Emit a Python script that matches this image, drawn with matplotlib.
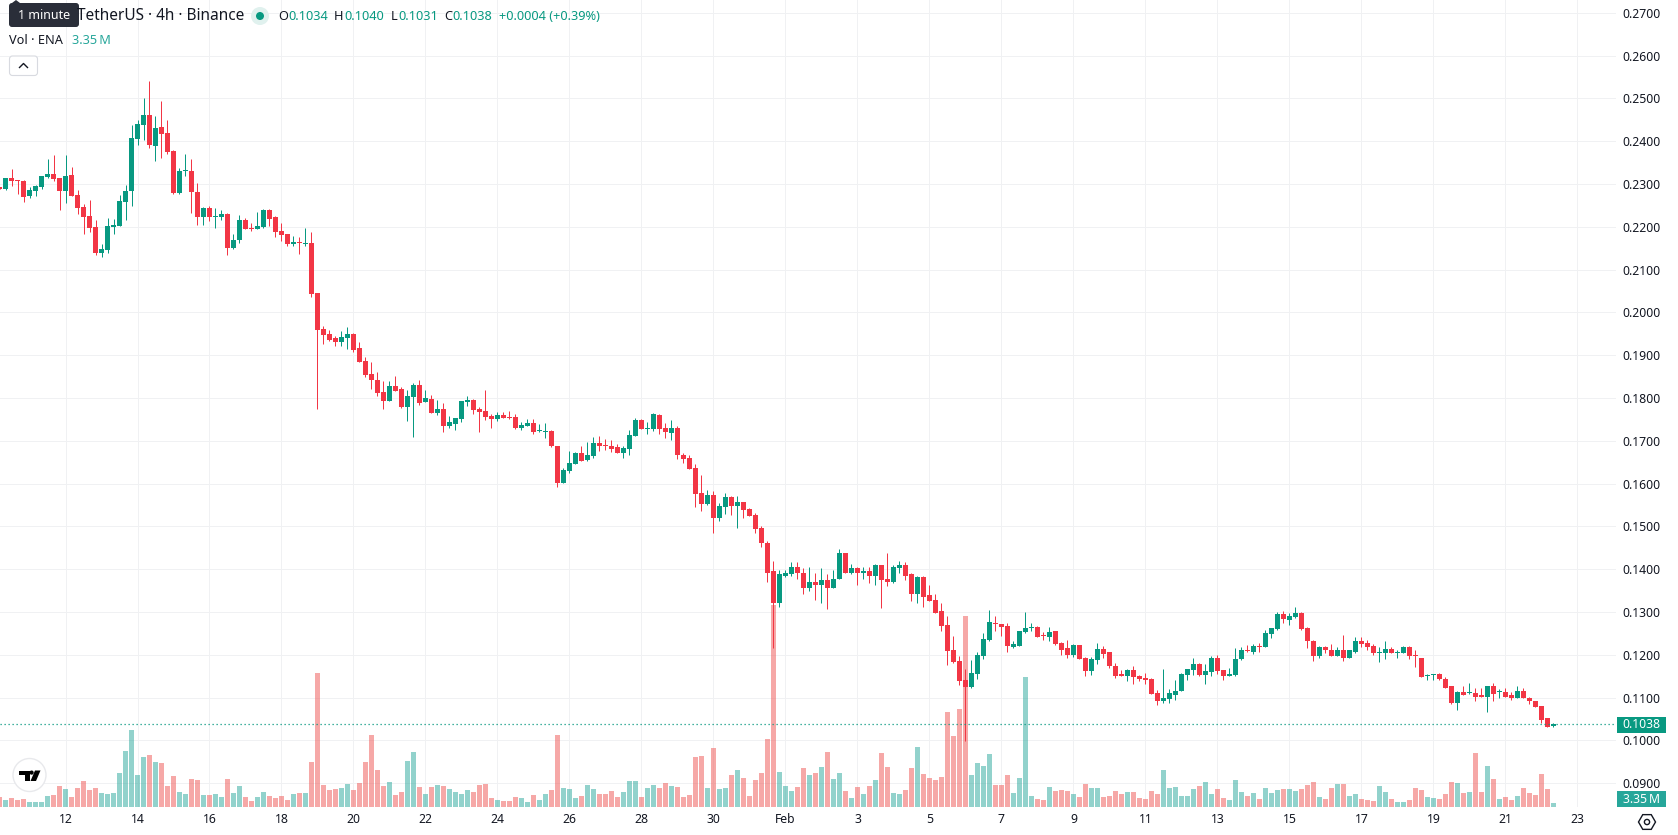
import matplotlib
matplotlib.use('Agg')
import matplotlib.pyplot as plt
import numpy as np
from matplotlib.patches import Circle, FancyBboxPatch, Polygon, Rectangle, RegularPolygon

W, H = 1678, 835
plt.rcParams['font.family'] = ['Noto Sans', 'DejaVu Sans']

# 4h candles, prices in 1/10000 USDT
opens = [
    2293, 2288, 2314, 2309, 2307, 2272, 2284, 2293, 2316, 2323,
    2314, 2284, 2321, 2274, 2246, 2225, 2199, 2138, 2145, 2199,
    2201, 2258, 2283, 2405, 2438, 2461, 2388, 2433, 2419, 2377,
    2279, 2330, 2330, 2281, 2223, 2244, 2223, 2223, 2230, 2150,
    2169, 2216, 2197, 2195, 2199, 2239, 2223, 2190, 2183, 2159,
    2164, 2159, 2162, 2044, 1960, 1949, 1939, 1930, 1939, 1949,
    1916, 1886, 1855, 1843, 1813, 1792, 1827, 1820, 1778, 1801,
    1830, 1790, 1797, 1764, 1773, 1734, 1738, 1750, 1790, 1794,
    1773, 1769, 1757, 1750, 1759, 1755, 1755, 1729, 1734, 1741,
    1722, 1720, 1722, 1687, 1601, 1629, 1645, 1671, 1654, 1664,
    1694, 1689, 1687, 1685, 1671, 1680, 1710, 1748, 1727, 1727,
    1759, 1729, 1717, 1729, 1666, 1659, 1636, 1577, 1551, 1572,
    1519, 1544, 1568, 1547, 1556, 1540, 1526, 1495, 1462, 1395,
    1320, 1383, 1388, 1404, 1392, 1357, 1369, 1364, 1374, 1357,
    1376, 1437, 1392, 1402, 1392, 1395, 1385, 1409, 1376, 1371,
    1402, 1409, 1388, 1343, 1381, 1339, 1327, 1301, 1270, 1211,
    1186, 1141, 1125, 1155, 1197, 1235, 1275, 1272, 1268, 1218,
    1221, 1254, 1263, 1265, 1247, 1242, 1256, 1228, 1216, 1200,
    1223, 1193, 1162, 1188, 1214, 1207, 1174, 1155, 1151, 1165,
    1151, 1146, 1144, 1111, 1092, 1097, 1106, 1116, 1153, 1165,
    1179, 1153, 1160, 1193, 1165, 1151, 1153, 1190, 1211, 1207,
    1221, 1218, 1249, 1261, 1296, 1282, 1289, 1298, 1263, 1232,
    1198, 1217, 1210, 1198, 1212, 1193, 1207, 1233, 1228, 1221,
    1203, 1203, 1214, 1203, 1205, 1217, 1198, 1193, 1150, 1152,
    1154, 1144, 1126, 1088, 1114, 1110, 1111, 1107, 1102, 1126,
    1112, 1114, 1105, 1098, 1116, 1100, 1091, 1081, 1051, 1034,
]
highs = [
    2293, 2314, 2335, 2309, 2309, 2293, 2297, 2318, 2358, 2367,
    2314, 2367, 2339, 2286, 2253, 2262, 2216, 2159, 2220, 2218,
    2274, 2297, 2438, 2449, 2501, 2540, 2459, 2494, 2449, 2379,
    2337, 2370, 2358, 2302, 2246, 2248, 2244, 2239, 2232, 2183,
    2227, 2220, 2208, 2234, 2241, 2241, 2225, 2208, 2183, 2178,
    2176, 2197, 2187, 2044, 1967, 1958, 1944, 1956, 1965, 1951,
    1930, 1895, 1883, 1860, 1839, 1839, 1851, 1825, 1818, 1834,
    1841, 1818, 1806, 1794, 1787, 1757, 1752, 1792, 1804, 1797,
    1778, 1818, 1762, 1766, 1766, 1769, 1762, 1743, 1750, 1750,
    1738, 1741, 1724, 1687, 1636, 1675, 1673, 1687, 1696, 1708,
    1710, 1703, 1701, 1692, 1687, 1724, 1752, 1750, 1743, 1764,
    1762, 1741, 1748, 1734, 1671, 1666, 1645, 1621, 1584, 1582,
    1554, 1577, 1570, 1570, 1556, 1542, 1530, 1500, 1465, 1418,
    1399, 1399, 1416, 1416, 1402, 1404, 1390, 1402, 1388, 1397,
    1448, 1437, 1413, 1404, 1406, 1404, 1413, 1409, 1437, 1409,
    1418, 1416, 1392, 1385, 1383, 1362, 1341, 1320, 1290, 1244,
    1198, 1167, 1188, 1207, 1251, 1305, 1291, 1272, 1275, 1232,
    1256, 1300, 1275, 1268, 1254, 1265, 1256, 1230, 1235, 1226,
    1223, 1195, 1195, 1228, 1221, 1207, 1181, 1165, 1167, 1174,
    1153, 1158, 1146, 1118, 1167, 1120, 1141, 1158, 1167, 1193,
    1181, 1179, 1197, 1200, 1165, 1169, 1216, 1218, 1223, 1226,
    1228, 1258, 1263, 1300, 1303, 1298, 1312, 1300, 1265, 1235,
    1221, 1221, 1224, 1217, 1245, 1212, 1242, 1242, 1235, 1224,
    1219, 1233, 1219, 1210, 1221, 1221, 1212, 1193, 1154, 1156,
    1158, 1147, 1126, 1116, 1128, 1133, 1123, 1123, 1128, 1135,
    1121, 1123, 1114, 1126, 1123, 1102, 1093, 1081, 1051, 1040,
]
lows = [
    2287, 2286, 2295, 2276, 2258, 2267, 2272, 2288, 2314, 2307,
    2239, 2255, 2272, 2230, 2183, 2187, 2134, 2129, 2138, 2183,
    2201, 2216, 2248, 2391, 2402, 2384, 2353, 2360, 2370, 2276,
    2276, 2318, 2232, 2204, 2204, 2213, 2197, 2216, 2134, 2148,
    2162, 2195, 2190, 2195, 2197, 2201, 2176, 2166, 2155, 2155,
    2136, 2155, 2036, 1773, 1925, 1932, 1921, 1921, 1914, 1907,
    1883, 1848, 1820, 1804, 1773, 1792, 1815, 1776, 1745, 1708,
    1783, 1790, 1764, 1759, 1720, 1729, 1724, 1743, 1780, 1762,
    1720, 1748, 1729, 1745, 1752, 1750, 1727, 1724, 1734, 1715,
    1720, 1706, 1685, 1591, 1601, 1624, 1645, 1652, 1652, 1659,
    1675, 1678, 1673, 1671, 1659, 1666, 1710, 1727, 1715, 1722,
    1715, 1706, 1701, 1657, 1647, 1633, 1544, 1535, 1549, 1484,
    1512, 1528, 1526, 1495, 1519, 1523, 1484, 1451, 1371, 1215,
    1311, 1381, 1385, 1378, 1343, 1350, 1327, 1320, 1306, 1357,
    1376, 1392, 1388, 1364, 1378, 1367, 1362, 1308, 1360, 1367,
    1392, 1374, 1325, 1322, 1311, 1325, 1297, 1255, 1176, 1181,
    1130, 998, 1123, 1144, 1190, 1232, 1256, 1244, 1207, 1216,
    1221, 1251, 1256, 1242, 1235, 1232, 1223, 1200, 1193, 1195,
    1190, 1151, 1153, 1179, 1193, 1169, 1146, 1151, 1139, 1132,
    1139, 1132, 1109, 1083, 1088, 1088, 1095, 1116, 1141, 1153,
    1151, 1132, 1151, 1155, 1141, 1151, 1151, 1188, 1207, 1202,
    1207, 1218, 1240, 1258, 1275, 1270, 1286, 1258, 1216, 1186,
    1193, 1203, 1198, 1196, 1186, 1193, 1205, 1217, 1212, 1200,
    1184, 1191, 1203, 1193, 1203, 1191, 1172, 1147, 1142, 1142,
    1140, 1123, 1086, 1072, 1105, 1109, 1093, 1102, 1067, 1091,
    1100, 1102, 1095, 1098, 1098, 1084, 1079, 1041, 1032, 1031,
]
closes = [
    2289, 2314, 2307, 2307, 2270, 2286, 2295, 2318, 2323, 2311,
    2284, 2318, 2272, 2244, 2223, 2197, 2138, 2148, 2201, 2204,
    2260, 2283, 2407, 2440, 2461, 2391, 2430, 2416, 2374, 2279,
    2330, 2332, 2281, 2223, 2244, 2223, 2225, 2230, 2150, 2169,
    2216, 2195, 2195, 2201, 2239, 2218, 2187, 2181, 2159, 2164,
    2162, 2162, 2043, 1958, 1946, 1935, 1930, 1942, 1949, 1911,
    1883, 1853, 1841, 1811, 1792, 1827, 1815, 1778, 1804, 1830,
    1787, 1799, 1764, 1773, 1734, 1743, 1752, 1792, 1794, 1771,
    1766, 1755, 1750, 1759, 1752, 1752, 1729, 1736, 1741, 1720,
    1724, 1722, 1687, 1601, 1631, 1647, 1671, 1652, 1666, 1694,
    1687, 1687, 1680, 1671, 1682, 1713, 1748, 1727, 1729, 1762,
    1727, 1720, 1729, 1666, 1657, 1633, 1575, 1551, 1572, 1519,
    1547, 1568, 1547, 1556, 1537, 1523, 1493, 1462, 1392, 1320,
    1388, 1392, 1404, 1390, 1357, 1369, 1362, 1374, 1357, 1378,
    1437, 1392, 1402, 1392, 1395, 1385, 1409, 1374, 1371, 1404,
    1409, 1385, 1341, 1381, 1336, 1325, 1297, 1266, 1209, 1183,
    1139, 1125, 1158, 1200, 1237, 1277, 1272, 1265, 1221, 1225,
    1256, 1263, 1265, 1242, 1244, 1254, 1226, 1212, 1200, 1223,
    1190, 1162, 1190, 1214, 1202, 1174, 1151, 1151, 1165, 1148,
    1144, 1141, 1109, 1092, 1099, 1111, 1116, 1155, 1167, 1179,
    1153, 1162, 1193, 1162, 1151, 1155, 1190, 1211, 1209, 1221,
    1218, 1251, 1263, 1296, 1284, 1291, 1298, 1261, 1232, 1197,
    1217, 1210, 1198, 1212, 1193, 1210, 1233, 1226, 1219, 1203,
    1205, 1214, 1205, 1207, 1217, 1196, 1196, 1149, 1151, 1154,
    1144, 1123, 1088, 1114, 1107, 1111, 1102, 1102, 1126, 1109,
    1114, 1102, 1098, 1116, 1098, 1091, 1079, 1048, 1032, 1038,
]
# volume in millions of ENA
volumes = [
    8.4, 5.9, 7.5, 5.9, 6.7, 4.2, 4.2, 4.2, 9.2, 10.1,
    17.6, 15.1, 8.4, 15.9, 21.8, 14.2, 15.9, 11.7, 10.9, 11.7,
    28.5, 46.9, 64.5, 26.8, 41.9, 43.6, 37.7, 36.9, 17.6, 26.0,
    12.6, 10.9, 23.5, 22.6, 10.1, 10.1, 10.9, 8.4, 23.5, 11.7,
    17.6, 8.4, 5.0, 8.4, 12.6, 9.2, 7.5, 9.2, 5.9, 10.9,
    11.7, 11.7, 37.7, 112.2, 18.4, 14.2, 15.1, 15.9, 19.3, 14.2,
    20.1, 37.7, 60.3, 31.0, 17.6, 20.9, 10.1, 12.6, 38.5, 46.1,
    16.8, 10.9, 16.8, 18.4, 17.6, 15.1, 12.6, 10.9, 14.2, 12.6,
    18.4, 19.3, 7.5, 5.9, 5.0, 5.0, 8.4, 7.5, 4.2, 10.1,
    5.9, 10.9, 14.2, 60.3, 15.9, 15.1, 7.5, 9.2, 18.4, 15.1,
    10.9, 10.9, 13.4, 8.4, 12.6, 21.8, 21.8, 8.4, 15.9, 18.4,
    15.9, 20.1, 17.6, 16.8, 8.4, 10.1, 41.9, 42.7, 15.9, 49.4,
    15.1, 15.9, 26.8, 31.0, 24.3, 9.2, 22.6, 28.5, 57.0, 169.2,
    29.3, 17.6, 13.4, 16.8, 32.7, 26.8, 28.5, 33.5, 46.1, 23.5,
    28.5, 13.4, 7.5, 16.8, 10.9, 17.6, 22.6, 45.2, 33.5, 11.7,
    10.9, 14.2, 32.7, 50.3, 27.6, 24.3, 22.6, 25.1, 79.6, 59.5,
    82.1, 160.0, 26.8, 36.9, 34.3, 44.4, 18.4, 18.4, 26.8, 11.7,
    24.3, 108.9, 9.2, 6.7, 5.9, 16.8, 13.4, 14.2, 13.4, 10.9,
    8.4, 19.3, 15.9, 15.9, 8.4, 9.2, 13.4, 10.9, 12.6, 12.6,
    7.5, 6.7, 13.4, 10.9, 31.0, 15.9, 16.8, 9.2, 9.2, 15.1,
    17.6, 20.9, 10.9, 15.1, 7.5, 5.9, 22.6, 12.6, 9.2, 11.7,
    6.7, 15.9, 11.7, 14.2, 15.1, 15.1, 13.4, 15.1, 18.4, 20.9,
    8.4, 6.7, 15.9, 19.3, 19.3, 9.2, 10.9, 6.7, 5.9, 5.0,
    17.6, 12.6, 6.7, 4.2, 4.2, 5.9, 15.9, 14.2, 8.4, 7.5,
    6.7, 10.9, 20.9, 20.1, 11.7, 12.6, 45.2, 12.6, 34.3, 23.5,
    6.7, 8.4, 5.9, 9.2, 15.9, 11.7, 10.1, 27.6, 15.1, 3.35,
]
# candle index of each time axis label
tick_idx = [11, 23, 35, 47, 59, 71, 83, 95, 107, 119, 131, 143, 155, 167, 179,
            191, 203, 215, 227, 239, 251, 263]
tick_labels = ['12', '14', '16', '18', '20', '22', '24', '26', '28', '30', 'Feb',
               '3', '5', '7', '9', '11', '13', '15', '17', '19', '21', '23']
price_ticks = [0.09, 0.10, 0.11, 0.12, 0.13, 0.14, 0.15, 0.16, 0.17, 0.18, 0.19,
               0.20, 0.21, 0.22, 0.23, 0.24, 0.25, 0.26, 0.27]

GREEN = '#089981'
RED = '#F23645'
VOL_GREEN = '#26a69a'
VOL_RED = '#ef5350'
GRID = '#F0F1F3'
TEXT = '#131722'

o = np.array(opens) / 10000
h = np.array(highs) / 10000
l = np.array(lows) / 10000
c = np.array(closes) / 10000
v = np.array(volumes)
x = np.arange(len(o))
up = c >= o

fig = plt.figure(figsize=(W / 100, H / 100), dpi=100, facecolor='white')
rect = [0, 1 - 807 / H, 1616 / W, 807 / H]

# three stacked layers: grid and scales, volume, candles
ax = fig.add_axes(rect, zorder=1)
ax_vol = fig.add_axes(rect, zorder=2, sharex=ax)
ax_c = fig.add_axes(rect, zorder=3, sharex=ax, sharey=ax)
ax_vol.patch.set_visible(False)
ax_c.patch.set_visible(False)
ax_vol.axis('off')
ax_c.axis('off')

ax.set_xlim(0.0833, 269.417)
ax.set_ylim(0.08442, 0.27297)
ax_vol.set_ylim(0, 675.9)

for s in ax.spines.values():
    s.set_visible(False)
ax.set_axisbelow(True)
ax.grid(True, color=GRID, lw=0.72)
ax.yaxis.tick_right()
ax.set_yticks(price_ticks)
ax.set_yticklabels([f'{p:.4f}' for p in price_ticks])
ax.set_xticks(tick_idx)
ax.set_xticklabels(tick_labels)
ax.tick_params(axis='y', length=0, pad=4.8, labelsize=8.8, labelcolor=TEXT)
ax.tick_params(axis='x', length=0, pad=4.5, labelsize=8.8, labelcolor=TEXT)
ax.get_xticklabels()[tick_labels.index('Feb')].set_fontweight('bold')

vol_colors = [VOL_GREEN if u else VOL_RED for u in up]
ax_vol.bar(x, v, width=5 / 6, color=vol_colors, alpha=0.5, linewidth=0)

# bodies get at least a hairline so dojis stay visible
candle_colors = np.array([GREEN if u else RED for u in up])
body_low = np.minimum(o, c)
body_h = np.maximum(np.abs(c - o), 0.00025)
ax_c.vlines(x, l, h, colors=candle_colors, lw=0.72)
ax_c.bar(x, body_h, bottom=body_low, width=5 / 6, color=candle_colors, linewidth=0)
ax_c.axhline(c[-1], color=GREEN, lw=0.9, ls=(0, (1, 2.2)))

# overlay in pixel units for the legend, price tags and badges
ov = fig.add_axes([0, 0, 1, 1], zorder=10)
ov.set_xlim(0, W)
ov.set_ylim(H, 0)
ov.axis('off')

vol_text = f'{v[-1]:.2f}\u2009M'

# current price and volume tags on the scale
ov.add_patch(Rectangle((1617, 716.5), 49, 16, color=GREEN, lw=0))
ov.text(1641.5, 725, f'{c[-1]:.4f}', color='white', fontsize=8.8, ha='center', va='center')
ov.add_patch(Rectangle((1617, 791), 49, 16, color='#26A69A', lw=0))
ov.text(1641.5, 799.5, vol_text, color='white', fontsize=8.8, ha='center', va='center')

# legend rows
ov.text(77, 16.5, 'TetherUS · 4h · Binance', color=TEXT, fontsize=11.1, va='center')
ov.add_patch(Circle((260, 16), 9, color='#E0F1EE', lw=0))
ov.add_patch(Circle((260, 16), 4, color=GREEN, lw=0))
for lx, name, vx, val in [(278, 'O', 288, o[-1]), (334, 'H', 344, h[-1]),
                          (390.5, 'L', 398, l[-1]), (444, 'C', 452.5, c[-1])]:
    ov.text(lx, 16.5, name, color=TEXT, fontsize=9.2, va='center')
    ov.text(vx, 16.5, f'{val:.4f}', color=GREEN, fontsize=9.2, va='center')
chg = c[-1] - o[-1]
ov.text(499, 16.5, f'+{chg:.4f} (+{chg / o[-1] * 100:.2f}%)', color=GREEN, fontsize=9.2, va='center')
ov.text(9, 41, 'Vol · ENA', color=TEXT, fontsize=9.2, va='center')
ov.text(71.5, 41, vol_text, color='#26A69A', fontsize=9.2, va='center')

# collapse button
ov.add_patch(FancyBboxPatch((9.5, 56), 28, 19.5, boxstyle='round,pad=0,rounding_size=3',
                            fc='white', ec='#D8DAE0', lw=0.8))
ov.plot([19.5, 23.5, 27.5], [67.5, 63.5, 67.5], color=TEXT, lw=1)

# tooltip over the symbol name
ov.add_patch(FancyBboxPatch((9, 3), 70, 24, boxstyle='round,pad=0,rounding_size=3',
                            fc='#2A2E39', ec='none'))
ov.add_patch(Polygon([[12, 3], [16, 0], [20, 3]], fc='#2A2E39', ec='none'))
ov.text(44, 15.5, '1 minute', color='white', fontsize=9, ha='center', va='center')

# logo badge
ov.add_patch(Circle((29.5, 775), 16.5, fc='white', ec='#E8E9EC', lw=1))
ov.add_patch(Polygon([[19, 770.5], [29.5, 770.5], [29.5, 781], [24.5, 781], [24.5, 775], [19, 775]],
                     fc='black', ec='none'))
ov.add_patch(Circle((31.6, 772.6), 2.1, fc='black', ec='none'))
ov.add_patch(Polygon([[35, 770.5], [40.5, 770.5], [36, 781], [30.5, 781]], fc='black', ec='none'))

# settings icon on the time axis
ov.add_patch(RegularPolygon((1647, 822), 6, radius=8.5, orientation=np.pi / 2, fc='none', ec=TEXT, lw=1))
ov.add_patch(Circle((1647, 822), 2.6, fc='none', ec=TEXT, lw=1))

fig.savefig('out.png', dpi=100, facecolor='white')
